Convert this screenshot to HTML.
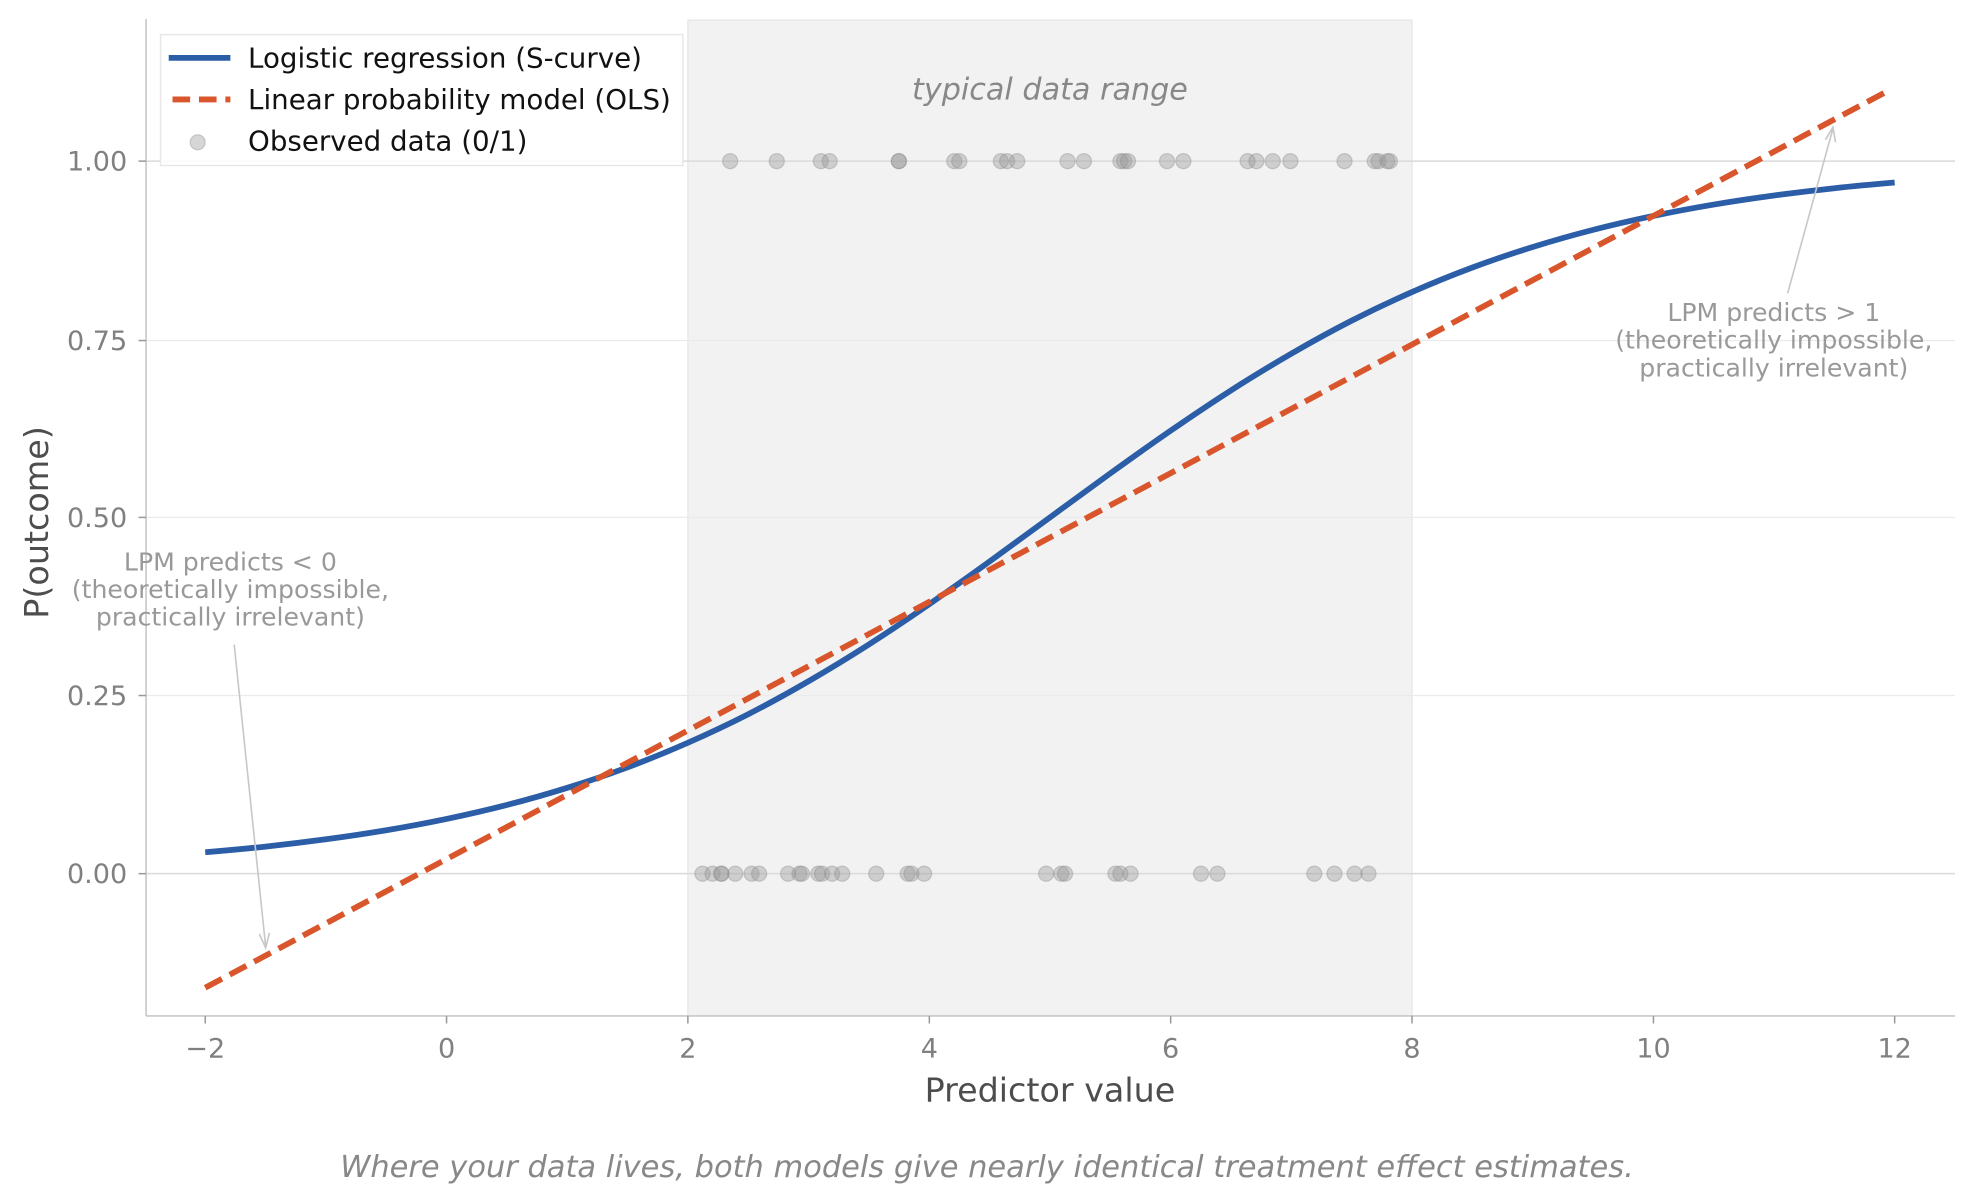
<!DOCTYPE html>
<html><head><meta charset="utf-8"><style>
html,body{margin:0;padding:0;background:#fff;}
svg{display:block;}
text{font-family:"DejaVu Sans","Liberation Sans",sans-serif;}
</style></head><body>
<svg width="1974" height="1204" viewBox="0 0 1568 956.4" xmlns="http://www.w3.org/2000/svg">
<rect x="0" y="0" width="1568" height="956.4" fill="#fff"/>
<rect x="546.4" y="16" width="575.2" height="791" fill="#f2f2f2" stroke="#e6e6e6" stroke-width="1"/>
<g stroke="#ebebeb" stroke-width="1">
<line x1="116" x2="1553" y1="270.5" y2="270.5"/>
<line x1="116" x2="1553" y1="411" y2="411"/>
<line x1="116" x2="1553" y1="552.5" y2="552.5"/>
</g>
<g stroke="#dadada" stroke-width="1.2">
<line x1="116" x2="1553" y1="128" y2="128"/>
<line x1="116" x2="1553" y1="694" y2="694"/>
</g>
<line x1="116" y1="15" x2="116" y2="807" stroke="#c8c8c8" stroke-width="1.3"/>
<line x1="116" y1="807" x2="1553" y2="807" stroke="#c8c8c8" stroke-width="1.3"/>
<g stroke="#999" stroke-width="1.2">
<line x1="110" x2="116" y1="128" y2="128"/><line x1="110" x2="116" y1="270.5" y2="270.5"/>
<line x1="110" x2="116" y1="411" y2="411"/><line x1="110" x2="116" y1="552.5" y2="552.5"/>
<line x1="110" x2="116" y1="694" y2="694"/>
<line x1="163" x2="163" y1="807" y2="813"/><line x1="354.7" x2="354.7" y1="807" y2="813"/>
<line x1="546.4" x2="546.4" y1="807" y2="813"/><line x1="738.2" x2="738.2" y1="807" y2="813"/>
<line x1="929.9" x2="929.9" y1="807" y2="813"/><line x1="1121.6" x2="1121.6" y1="807" y2="813"/>
<line x1="1313.4" x2="1313.4" y1="807" y2="813"/><line x1="1505" x2="1505" y1="807" y2="813"/>
</g>
<g fill="#808080" font-size="21.5" text-anchor="end">
<text x="101" y="135.5">1.00</text><text x="101" y="278">0.75</text>
<text x="101" y="418.5">0.50</text><text x="101" y="560">0.25</text><text x="101" y="701.5">0.00</text>
</g>
<g fill="#808080" font-size="21.5" text-anchor="middle">
<text x="163" y="840">−2</text><text x="354.7" y="840">0</text><text x="546.4" y="840">2</text>
<text x="738.2" y="840">4</text><text x="929.9" y="840">6</text><text x="1121.6" y="840">8</text>
<text x="1313.4" y="840">10</text><text x="1505" y="840">12</text>
</g>
<text x="834" y="875" font-size="26.5" fill="#4d4d4d" text-anchor="middle">Predictor value</text>
<text transform="translate(38,415) rotate(-90)" font-size="26.5" fill="#4d4d4d" text-anchor="middle">P(outcome)</text>
<text x="834" y="79" font-size="24" fill="#888" font-style="italic" text-anchor="middle">typical data range</text>
<g fill="#999" fill-opacity="0.4" stroke="#888" stroke-opacity="0.35" stroke-width="1">
<circle cx="580" cy="128" r="6"/><circle cx="617" cy="128" r="6"/><circle cx="652" cy="128" r="6"/><circle cx="659" cy="128" r="6"/><circle cx="714" cy="128" r="6"/><circle cx="714" cy="128" r="6"/><circle cx="758" cy="128" r="6"/><circle cx="762" cy="128" r="6"/><circle cx="795" cy="128" r="6"/><circle cx="800" cy="128" r="6"/><circle cx="808" cy="128" r="6"/><circle cx="848" cy="128" r="6"/><circle cx="861" cy="128" r="6"/><circle cx="890" cy="128" r="6"/><circle cx="893" cy="128" r="6"/><circle cx="896" cy="128" r="6"/><circle cx="927" cy="128" r="6"/><circle cx="940" cy="128" r="6"/><circle cx="991" cy="128" r="6"/><circle cx="998" cy="128" r="6"/><circle cx="1011" cy="128" r="6"/><circle cx="1025" cy="128" r="6"/><circle cx="1068" cy="128" r="6"/><circle cx="1092" cy="128" r="6"/><circle cx="1095" cy="128" r="6"/><circle cx="1102" cy="128" r="6"/><circle cx="1104" cy="128" r="6"/>
<circle cx="558" cy="694" r="6"/><circle cx="566" cy="694" r="6"/><circle cx="573" cy="694" r="6"/><circle cx="573" cy="694" r="6"/><circle cx="584" cy="694" r="6"/><circle cx="597" cy="694" r="6"/><circle cx="603" cy="694" r="6"/><circle cx="626" cy="694" r="6"/><circle cx="635" cy="694" r="6"/><circle cx="637" cy="694" r="6"/><circle cx="650" cy="694" r="6"/><circle cx="653" cy="694" r="6"/><circle cx="661" cy="694" r="6"/><circle cx="669" cy="694" r="6"/><circle cx="696" cy="694" r="6"/><circle cx="721" cy="694" r="6"/><circle cx="724" cy="694" r="6"/><circle cx="734" cy="694" r="6"/><circle cx="831" cy="694" r="6"/><circle cx="843" cy="694" r="6"/><circle cx="846" cy="694" r="6"/><circle cx="886" cy="694" r="6"/><circle cx="890" cy="694" r="6"/><circle cx="898" cy="694" r="6"/><circle cx="954" cy="694" r="6"/><circle cx="967" cy="694" r="6"/><circle cx="1044" cy="694" r="6"/><circle cx="1060" cy="694" r="6"/><circle cx="1076" cy="694" r="6"/><circle cx="1087" cy="694" r="6"/>
</g>
<path fill="none" stroke="#2b5ea7" stroke-width="4.6" stroke-linejoin="round" d="M163,677 C178.98,675.64 194.92,674.21 210.9,672.5 S242.92,668.85 258.9,666.7 S290.82,662.19 306.8,659.5 S338.72,653.83 354.7,650.5 S386.72,643.49 402.7,639.4 S434.62,630.77 450.6,625.8 S482.52,615.46 498.5,609.5 S530.42,597.04 546.4,590 S578.42,575.45 594.4,567.3 S626.32,550.35 642.3,541.1 S674.22,522.13 690.2,511.9 S722.22,490.93 738.2,479.9 S770.12,457.55 786.1,446 S818.02,422.73 834,411 S866.02,387.55 882,376 S913.92,353.13 929.9,342.1 S961.82,320.33 977.8,310.1 S1009.82,290.15 1025.8,280.9 S1057.72,262.85 1073.7,254.7 S1105.62,239.04 1121.6,232 S1153.62,218.46 1169.6,212.5 S1201.52,201.17 1217.5,196.2 S1249.42,186.69 1265.4,182.6 S1297.42,174.83 1313.4,171.5 S1345.32,165.19 1361.3,162.5 S1393.22,157.45 1409.2,155.3 S1441.22,151.21 1457.2,149.5 S1489.02,146.36 1505,145"/>
<line x1="163" y1="784.6" x2="1500" y2="72" stroke="#d9552b" stroke-width="4.6" stroke-dasharray="15,7"/>
<g stroke="#c8c8c8" stroke-width="1.3" fill="none">
<line x1="186" y1="512" x2="211" y2="752"/>
<polyline points="206,742 211,753 214,741"/>
<line x1="1420" y1="233" x2="1456" y2="102"/>
<polyline points="1450,111 1456,101 1458,113"/>
</g>
<g fill="#999" font-size="20" text-anchor="middle">
<text x="183" y="453">LPM predicts &lt; 0</text>
<text x="183" y="475">(theoretically impossible,</text>
<text x="183" y="497">practically irrelevant)</text>
<text x="1409" y="255">LPM predicts &gt; 1</text>
<text x="1409" y="277">(theoretically impossible,</text>
<text x="1409" y="299">practically irrelevant)</text>
</g>
<rect x="127.5" y="27.5" width="415" height="104" fill="#fff" fill-opacity="0.85" stroke="#e8e8e8" stroke-width="1.2"/>
<line x1="134" x2="183" y1="46" y2="46" stroke="#2b5ea7" stroke-width="4.6"/>
<line x1="137" x2="183" y1="79" y2="79" stroke="#d9552b" stroke-width="4.6" stroke-dasharray="14,7"/>
<circle cx="157" cy="113" r="6" fill="#999" fill-opacity="0.4" stroke="#888" stroke-opacity="0.35"/>
<g font-size="22" fill="#111">
<text x="197" y="53.5">Logistic regression (S-curve)</text>
<text x="197" y="86.5">Linear probability model (OLS)</text>
<text x="197" y="119.5">Observed data (0/1)</text>
</g>
<text x="784" y="935" font-size="24.2" fill="#888" font-style="italic" text-anchor="middle">Where your data lives, both models give nearly identical treatment effect estimates.</text>
</svg>
</body></html>
